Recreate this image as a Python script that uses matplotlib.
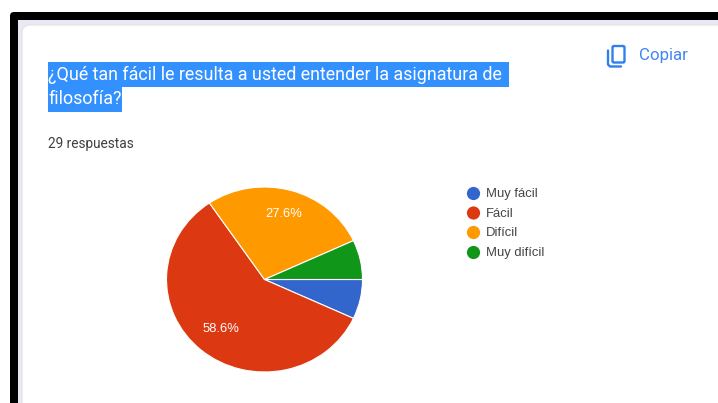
import matplotlib
matplotlib.use("Agg")
import matplotlib.pyplot as plt
from matplotlib.patches import FancyBboxPatch, Rectangle, Circle

W, H = 718, 403
categories = ["Muy fácil", "Fácil", "Difícil", "Muy difícil"]
values = [6.9, 58.6, 27.6, 6.9]
colors = ["#3366cc", "#dc3912", "#ff9900", "#109618"]
shown = {1: "58.6%", 2: "27.6%"}
title_lines = ["¿Qué tan fácil le resulta a usted entender la asignatura de", "filosofía?"]
subtitle = "29 respuestas"
copy_label = "Copiar"

plt.rcParams['font.family'] = ['Roboto', 'Liberation Sans', 'DejaVu Sans']
fig = plt.figure(figsize=(W / 100, H / 100), dpi=100, facecolor="white")

bg = fig.add_axes([0, 0, 1, 1])
bg.set_xlim(0, W); bg.set_ylim(H, 0); bg.axis("off")
bg.add_patch(FancyBboxPatch((10, 12), 760, 460, boxstyle="round,pad=0,rounding_size=4",
                            fc="black", ec="none"))
bg.add_patch(Rectangle((17.5, 19.5), 720, 400, fc="#ebe7f5", ec="none"))
bg.add_patch(FancyBboxPatch((22, 25), 720, 400, boxstyle="round,pad=0,rounding_size=8",
                            fc="white", ec="#e2e2e6", lw=0.8))

bg.add_patch(Rectangle((48, 61.5), 461, 25, fc="#3390ff", ec="none"))
bg.add_patch(Rectangle((48, 86.5), 74, 25, fc="#3390ff", ec="none"))
bg.text(48.5, 74.5, title_lines[0], color="white", fontsize=12.85, va="center", ha="left", family="Roboto")
bg.text(48.5, 99, title_lines[1], color="white", fontsize=12.85, va="center", ha="left", family="Roboto")
bg.text(48, 144, subtitle, color="#3c4043", fontsize=9.85, va="center", ha="left", family="Roboto")

blue = "#2f80ed"
bg.add_patch(FancyBboxPatch((612.5, 46), 12, 16.5, boxstyle="round,pad=0,rounding_size=1.5",
                            fc="none", ec=blue, lw=1.7))
bg.plot([608, 608, 610, 621], [50.5, 64.5, 66.5, 66.5], color=blue, lw=1.7, solid_capstyle="round")
bg.text(639, 55.5, copy_label, color="#4285f4", fontsize=12.2, va="center", ha="left", family="Roboto")

ly = [193.5, 213, 232.5, 252.5]
for y, c, t in zip(ly, colors, categories):
    bg.add_patch(Circle((473.5, y), 6.6, fc=c, ec="none"))
    bg.text(486, y + 0.6, t, color="#444444", fontsize=9.4, va="center", ha="left",
            family="Liberation Sans")

cx, cy, rx, ry = 264.5, 279.5, 98, 92.5
ax = fig.add_axes([(cx - rx) / W, 1 - (cy + ry) / H, 2 * rx / W, 2 * ry / H])
wedges, _ = ax.pie(values, colors=colors, startangle=0, counterclock=False, radius=1,
                   center=(0, 0), frame=False,
                   wedgeprops=dict(edgecolor="white", linewidth=0.8))
ax.set_xlim(-1, 1); ax.set_ylim(-1, 1); ax.set_aspect("auto"); ax.axis("off")

bg.set_zorder(0); ax.set_zorder(1)
ax.text((283.5 - cx) / rx, -(214.3 - cy) / ry, shown[2], color="white", fontsize=9.4, ha="center",
        va="center", family="Liberation Sans", zorder=5)
ax.text((221 - cx) / rx, -(329 - cy) / ry, shown[1], color="white", fontsize=9.4, ha="center",
        va="center", family="Liberation Sans", zorder=5)

fig.savefig("out.png", dpi=100, facecolor="white")
